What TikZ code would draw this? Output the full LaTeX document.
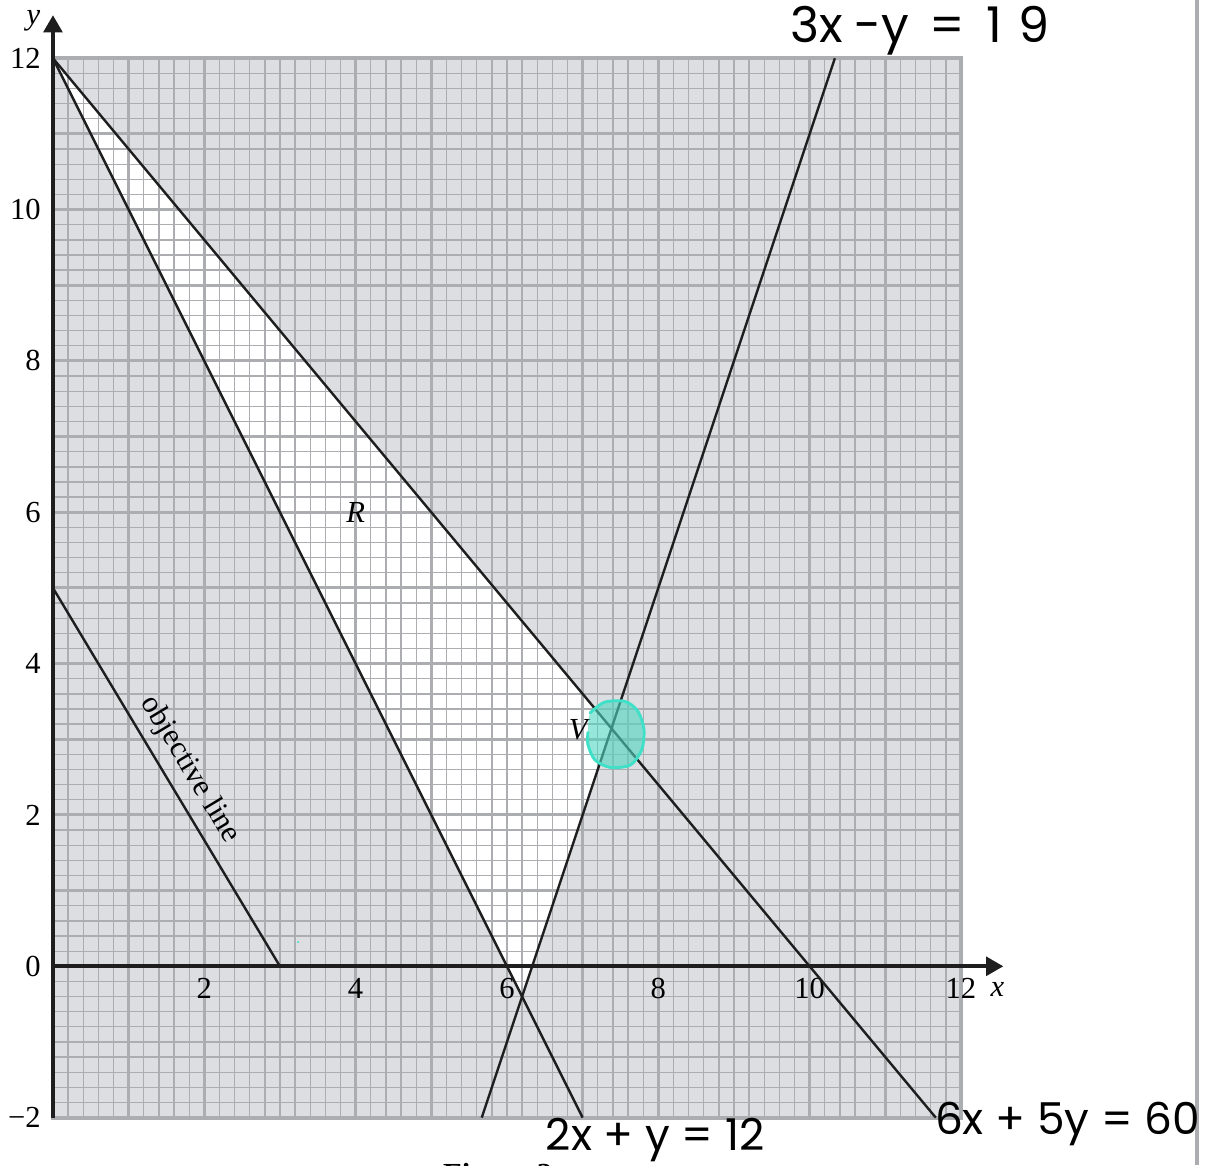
\documentclass[tikz,border=0pt]{standalone}
\usepackage{fontspec}
\setmainfont{Liberation Serif}
\newfontfamily\handfont{Poppins}
\usetikzlibrary{arrows.meta}
\definecolor{paperGrey}{RGB}{221,222,225}
\definecolor{gridGrey}{RGB}{172,173,177}
\definecolor{inkBlack}{RGB}{30,30,30}
\definecolor{markCyan}{RGB}{64,224,200}
\definecolor{markFill}{RGB}{80,215,192}

\begin{document}
\begin{tikzpicture}[
        paper/.style={fill=paperGrey, draw=none},
        finegrid/.style={draw=gridGrey, line width=0.5pt},
        coarsegrid/.style={draw=gridGrey, line width=1.1pt},
        axisline/.style={draw=inkBlack, line width=1.5pt, -{Triangle[length=6.5pt, width=7pt]}},
        constraint/.style={draw=inkBlack, line width=0.9pt},
        ticklab/.style={font=\fontsize{11.5pt}{13pt}\selectfont, inner sep=1pt},
        mathlab/.style={font=\itshape\fontsize{11.5pt}{13pt}\selectfont, inner sep=1pt},
        hand/.style={font=\handfont\fontsize{16.5pt}{18pt}\selectfont, inner sep=0pt}
    ]
        \useasboundingbox (-0.70,-2.63) rectangle (15.37,12.77);

        % Graph paper
        \fill[paper] (0,-2) rectangle (12,12);
        \coordinate (top) at (0,12);
        \coordinate (low) at (6.2,-0.4);
        \coordinate (vtx) at (155/21,66/21);
        \fill[white] (top) -- (low) -- (vtx) -- cycle;
        \draw[finegrid] (0,-2) grid[step=0.2] (12,12);
        \draw[coarsegrid] (0,-2) grid[step=1] (12,12);
        \draw[gridGrey, line width=1.5pt] (0,-2) rectangle (12,12);
        \draw[gridGrey, line width=1.5pt] (15.12,-2.63) -- (15.12,12.77);

        % Axes
        \coordinate (orig) at (0,0);
        \coordinate (xend) at (12.56,0);
        \coordinate (ybot) at (0,-2);
        \coordinate (yend) at (0,12.57);
        \draw[axisline] (orig) -- (xend);
        \draw[axisline] (ybot) -- (yend);
        \node[mathlab] (xlab) at (12.48,-0.30) {x};
        \node[mathlab] (ylab) at (-0.26,12.50) {y};
        \foreach \v in {2,4,...,12}
            \node[ticklab, anchor=north] (xt\v) at (\v,-0.12) {\v};
        \foreach \v/\t in {-2/−2,0/0,2/2,4/4,6/6,8/8,10/10,12/12}
            \node[ticklab, anchor=east] (yt\v) at (-0.12,\v) {\t};

        % Constraint lines
        \coordinate (a1) at (7,-2);
        \coordinate (b1) at (35/3,-2);
        \coordinate (c0) at (17/3,-2);
        \coordinate (c1) at (31/3,12);
        \draw[constraint] (top) -- (a1);
        \draw[constraint] (top) -- (b1);
        \draw[constraint] (c0) -- (c1);

        % Objective line
        \coordinate (o0) at (0,5);
        \coordinate (o1) at (3,0);
        \draw[constraint] (o0) -- (o1);
        \node[ticklab, rotate=-59] (objlab) at (1.81,2.60) {objective line};

        \node[mathlab] (lblR) at (4,6) {R};
        \node[mathlab] (lblV) at (6.94,3.13) {V};

        % Handwritten marks
        \fill[markFill, fill opacity=0.6] plot[smooth cycle] coordinates {(7.10,3.35) (7.29,3.49) (7.56,3.50) (7.73,3.37) (7.81,3.13) (7.78,2.86) (7.63,2.66) (7.36,2.63) (7.16,2.73) (7.07,2.93) (7.07,3.09)};
        \draw[markCyan, line width=1.1pt, line cap=round] plot[smooth] coordinates {(7.10,3.35) (7.29,3.49) (7.56,3.50) (7.73,3.37) (7.81,3.13) (7.78,2.86) (7.63,2.66) (7.36,2.63) (7.16,2.73) (7.07,2.93) (7.07,3.09)};
        \fill[markCyan] (3.24,0.32) circle (0.015);
        \node[hand, font=\handfont\fontsize{18.5pt}{20pt}\selectfont] (eq3) at (11.46,12.36) {3x\hspace{4pt}−y\hspace{8pt}=\hspace{8pt}1\hspace{6pt}9};
        \node[hand] (eq2) at (7.96,-2.29) {2x + y = 12};
        \node[hand] (eq6) at (13.41,-2.08) {6x + 5y = 60};

        \node[font=\bfseries\fontsize{11.5pt}{13pt}\selectfont, anchor=north west, inner sep=0pt] (fig) at (5.15,-2.60) {Figure 2};
    \end{tikzpicture}
\end{document}
